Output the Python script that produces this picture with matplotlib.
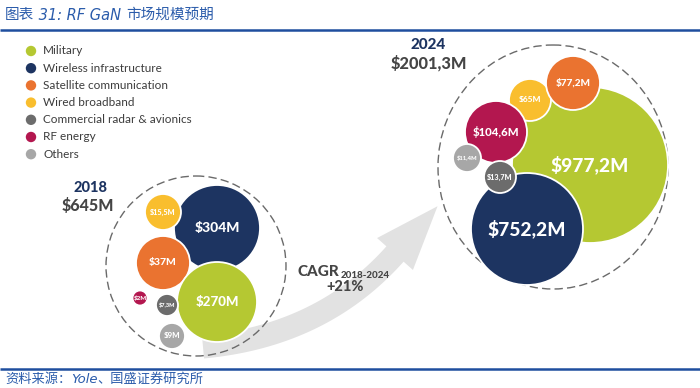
import numpy as np
import matplotlib
matplotlib.use("Agg")
import matplotlib.pyplot as plt
from matplotlib.patches import Circle, Ellipse, Polygon
from matplotlib import font_manager as fm

plt.rcParams['text.parse_math'] = False

# ---------------- data ----------------
categories = ["Military", "Wireless infrastructure", "Satellite communication",
              "Wired broadband", "Commercial radar & avionics", "RF energy", "Others"]
values_2018 = [270, 304, 37, 15.5, 7.3, 2, 9]
values_2024 = [977.2, 752.2, 77.2, 65, 13.7, 104.6, 11.4]
total_2018 = 645
total_2024 = 2001.3
years = ["2018", "2024"]
cagr = 21
title_parts = ["图表", " 31: RF GaN ", "市场规模预期"]
source_parts = ["资料来源：", "Yole", "、国盛证券研究所"]

# ---------------- styles / layout ----------------
colors = ["#b5c832", "#1d3461", "#ea7330", "#f9be2e", "#6c6c6c", "#b3174f", "#a7a7a7"]
# (x, y, radius, fontsize) in pixel space for each category
layout_2018 = [(217, 302, 40, 9.5), (217, 228, 43, 10), (163, 263, 27, 7.5),
               (163, 212, 18, 5.2), (167, 305, 11, 4.1), (140, 298, 7.5, 4.5), (172, 336, 13, 5.7)]
layout_2024 = [(590, 165, 78, 13.8), (527, 229, 56, 13.8), (573, 83, 27, 7.2),
               (530, 100, 21, 6.0), (500, 177, 16, 5.2), (496, 132, 31, 8.2), (467, 158, 14, 4.2)]
order_2018 = [1, 3, 2, 0, 5, 4, 6]
order_2024 = [0, 3, 2, 5, 1, 6, 4]


def find_bold_file():
    files = {f.fname.split("/")[-1]: f.fname for f in fm.fontManager.ttflist}
    for name in ["Lato-Heavy.ttf", "Lato-ExtraBold.ttf", "Lato-Black.ttf", "Lato-Bold.ttf",
                 "Inter-ExtraBold.otf", "LiberationSans-Bold.ttf"]:
        if name in files:
            return files[name]
    return None


BOLD_PATH = find_bold_file()


def bfp(size):
    if BOLD_PATH:
        return fm.FontProperties(fname=BOLD_PATH, size=size)
    return fm.FontProperties(family="DejaVu Sans", weight="bold", size=size)


LAT = ["Lato", "DejaVu Sans"]
CJK = ["Noto Sans CJK SC", "DejaVu Sans"]
blue = "#1f4e9e"
tblue = "#2b5cab"


def fmt(v):
    return "$" + f"{v:g}".replace(".", ",") + "M"


fig = plt.figure(figsize=(7.0, 3.88), dpi=100)
ax = fig.add_axes([0, 0, 1, 1])
ax.set_xlim(0, 700)
ax.set_ylim(388, 0)
ax.axis("off")


def chained(x, y, parts, fs):
    fams = [CJK, ["DejaVu Sans"], CJK]
    styles = ["normal", "italic", "normal"]
    prev = ax.text(x, y, parts[0], fontsize=fs, color=tblue, family=fams[0],
                   va="center", ha="left")
    for p, fam, st in zip(parts[1:], fams[1:], styles[1:]):
        prev = ax.annotate(p, xy=(1, 0.5), xycoords=prev, fontsize=fs, color=tblue,
                           family=fam, style=st, va="center", ha="left")


# title and rules
chained(5, 15, title_parts, 10.5)
ax.plot([0, 700], [30, 30], color=blue, lw=1.8, solid_capstyle="butt")
ax.plot([0, 700], [369, 369], color=blue, lw=1.8, solid_capstyle="butt")
chained(5, 379.5, source_parts, 9.5)

# legend
for i, (cat, col) in enumerate(zip(categories, colors)):
    y = 51 + i * 17.2
    ax.add_patch(Circle((31, y), 5.2, color=col, lw=0))
    ax.text(43, y, cat, fontsize=8.5, color="#3c3c3c", family=LAT, va="center", ha="left")

# arrow (curved) behind bubbles
P0 = np.array([203.0, 347.0]); P1 = np.array([322.0, 336.0]); P2 = np.array([395.0, 254.0])
t = np.linspace(0, 1, 60)[:, None]
curve = (1 - t) ** 2 * P0 + 2 * (1 - t) * t * P1 + t ** 2 * P2
d = 2 * (1 - t) * (P1 - P0) + 2 * t * (P2 - P1)
d = d / np.linalg.norm(d, axis=1, keepdims=True)
nrm = np.column_stack([-d[:, 1], d[:, 0]])
hw = 11.5
upper = curve + nrm * hw
lower = curve - nrm * hw
dend = d[-1]; nend = nrm[-1]
head = [P2 + nend * 24, P2 + dend * 64, P2 - nend * 24]
pts = np.vstack([upper, head, lower[::-1]])
ax.add_patch(Polygon(pts, closed=True, color="#e2e2e2", lw=0, zorder=1))

# dashed outer circles
ax.add_patch(Circle((196, 266), 90, fill=False, ec="#6a6a6a", lw=1.0,
                    ls=(0, (6, 3)), zorder=2))
ax.add_patch(Ellipse((553, 167), 230, 244, fill=False, ec="#6a6a6a", lw=1.0,
                     ls=(0, (6, 3)), zorder=2))


def bubbles(values, layout, order):
    for k, i in enumerate(order):
        x, y, r, fs = layout[i]
        ax.add_patch(Circle((x, y), r, fc=colors[i], ec="white", lw=1.3, zorder=3 + k))
        ax.text(x, y, fmt(values[i]), fontproperties=bfp(fs), color="white",
                ha="center", va="center", zorder=20)


bubbles(values_2018, layout_2018, order_2018)
bubbles(values_2024, layout_2024, order_2024)

# year headings
ax.text(90, 188, years[0], fontproperties=bfp(10.5), color="#1d3461",
        ha="center", va="center")
ax.text(88, 206, "$" + f"{total_2018:g}" + "M", fontproperties=bfp(11.5),
        color="#454545", ha="center", va="center")
ax.text(428, 45, years[1], fontproperties=bfp(11), color="#1d3461",
        ha="center", va="center")
ax.text(429, 63.5, "$" + f"{total_2024:g}".replace(".", ",") + "M", fontproperties=bfp(11.8),
        color="#454545", ha="center", va="center")

# CAGR
ax.text(339, 272, "CAGR", fontproperties=bfp(11), color="#454545",
        ha="right", va="center")
ax.text(341, 276, f"{years[0]}-{years[1]}", fontproperties=bfp(7.0), color="#454545",
        ha="left", va="center")
ax.text(345, 287, f"+{cagr}%", fontproperties=bfp(10.5), color="#454545",
        ha="center", va="center")

fig.savefig("out.png", dpi=100)
